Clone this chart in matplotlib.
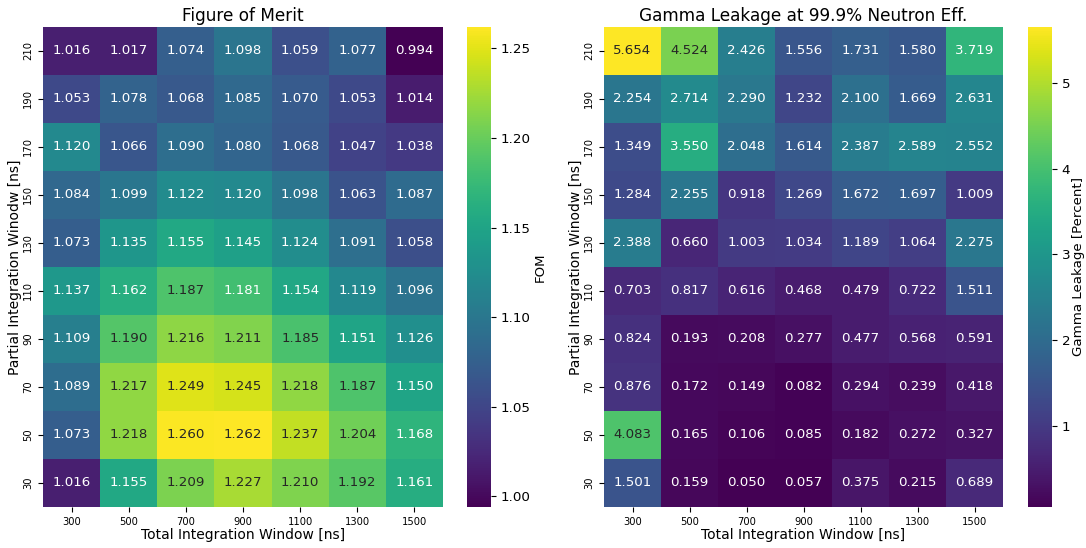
import numpy as np
import matplotlib
matplotlib.use("Agg")
import matplotlib.pyplot as plt
import seaborn as sns

# axes values
total_window = [300, 500, 700, 900, 1100, 1300, 1500]
partial_window = [210, 190, 170, 150, 130, 110, 90, 70, 50, 30]  # top -> bottom

# figure of merit, rows follow partial_window
fom = [
    [1.016, 1.017, 1.074, 1.098, 1.059, 1.077, 0.994],
    [1.053, 1.078, 1.068, 1.085, 1.070, 1.053, 1.014],
    [1.120, 1.066, 1.090, 1.080, 1.068, 1.047, 1.038],
    [1.084, 1.099, 1.122, 1.120, 1.098, 1.063, 1.087],
    [1.073, 1.135, 1.155, 1.145, 1.124, 1.091, 1.058],
    [1.137, 1.162, 1.187, 1.181, 1.154, 1.119, 1.096],
    [1.109, 1.190, 1.216, 1.211, 1.185, 1.151, 1.126],
    [1.089, 1.217, 1.249, 1.245, 1.218, 1.187, 1.150],
    [1.073, 1.218, 1.260, 1.262, 1.237, 1.204, 1.168],
    [1.016, 1.155, 1.209, 1.227, 1.210, 1.192, 1.161],
]

# gamma leakage in percent at 99.9% neutron efficiency
gamma_leak = [
    [5.654, 4.524, 2.426, 1.556, 1.731, 1.580, 3.719],
    [2.254, 2.714, 2.290, 1.232, 2.100, 1.669, 2.631],
    [1.349, 3.550, 2.048, 1.614, 2.387, 2.589, 2.552],
    [1.284, 2.255, 0.918, 1.269, 1.672, 1.697, 1.009],
    [2.388, 0.660, 1.003, 1.034, 1.189, 1.064, 2.275],
    [0.703, 0.817, 0.616, 0.468, 0.479, 0.722, 1.511],
    [0.824, 0.193, 0.208, 0.277, 0.477, 0.568, 0.591],
    [0.876, 0.172, 0.149, 0.082, 0.294, 0.239, 0.418],
    [4.083, 0.165, 0.106, 0.085, 0.182, 0.272, 0.327],
    [1.501, 0.159, 0.050, 0.057, 0.375, 0.215, 0.689],
]

W, H = 1086, 548
fig = plt.figure(figsize=(W / 100, H / 100), dpi=100)


def box(x0, x1, y0, y1):
    # pixel box -> figure fraction
    return [x0 / W, 1 - y1 / H, (x1 - x0) / W, (y1 - y0) / H]


ax1 = fig.add_axes(box(43, 443, 27, 507))
cax1 = fig.add_axes(box(467, 491, 27, 507))
ax2 = fig.add_axes(box(604, 1003, 27, 507))
cax2 = fig.add_axes(box(1028, 1052, 27, 507))

panels = [
    (ax1, cax1, fom, "Figure of Merit", "FOM", 2),
    (ax2, cax2, gamma_leak, "Gamma Leakage at 99.9% Neutron Eff.", "Gamma Leakage [Percent]", 1),
]

for ax, cax, data, title, cblabel, cbpad in panels:
    sns.heatmap(np.array(data), ax=ax, cbar_ax=cax, cmap="viridis",
                annot=True, fmt=".3f", annot_kws={"size": 9.6},
                xticklabels=total_window, yticklabels=partial_window)
    ax.set_title(title, fontsize=12.2, pad=4)
    ax.set_xlabel("Total Integration Window [ns]", fontsize=10, labelpad=1)
    ax.set_ylabel("Partial Integration Winodw [ns]", fontsize=10)
    ax.yaxis.set_label_coords(-0.052, 0.5)
    ax.tick_params(axis="x", labelsize=7.2, rotation=0)
    ax.tick_params(axis="y", labelsize=7.2)
    for t in ax.get_yticklabels():
        t.set_rotation(90)
        t.set_va("center")
    cax.tick_params(labelsize=9.7)
    cax.set_ylabel(cblabel, fontsize=9.6, labelpad=cbpad)

fig.savefig("out.png", dpi=100)
